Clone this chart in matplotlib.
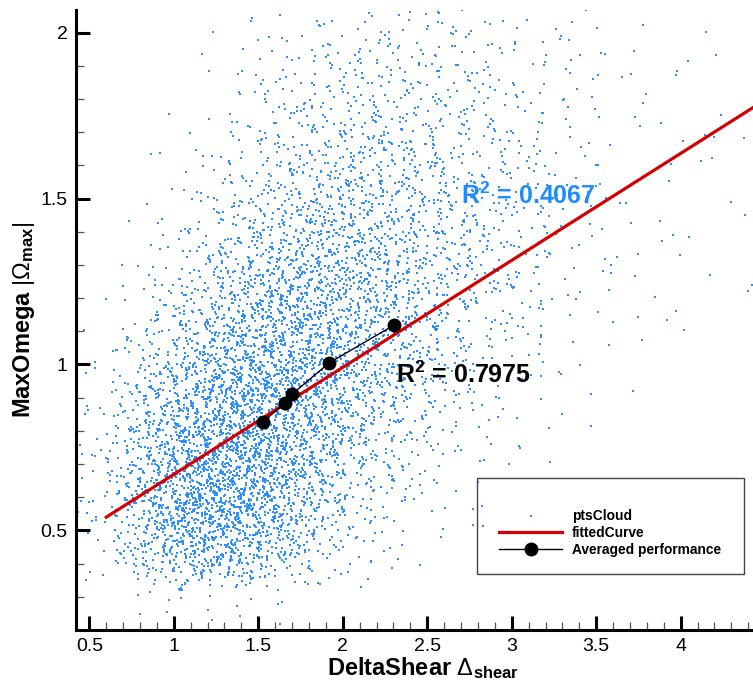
import numpy as np
import matplotlib
matplotlib.use("Agg")
import matplotlib.pyplot as plt
from matplotlib.patches import Rectangle
from matplotlib.ticker import MultipleLocator

plt.rcParams['font.family'] = ['Liberation Sans', 'DejaVu Sans']
plt.rcParams['mathtext.fontset'] = 'custom'
plt.rcParams['mathtext.rm'] = 'Liberation Sans'
plt.rcParams['mathtext.it'] = 'Liberation Sans'
plt.rcParams['mathtext.bf'] = 'Liberation Sans:bold'

# point cloud, stored as counts per cell (rows go up in y, columns go right in x)
cloud_x_edges = [0.5, 0.75, 1.0, 1.25, 1.5, 1.75, 2.0, 2.25, 2.5, 2.75,
                 3.0, 3.25, 3.5, 3.75, 4.0, 4.25, 4.5]
cloud_y_edges = [0.25, 0.375, 0.5, 0.625, 0.75, 0.875, 1.0, 1.125, 1.25,
                 1.375, 1.5, 1.625, 1.75, 1.875, 2.0, 2.125]
cloud_counts = [
    [0, 4, 8, 8, 4, 1, 0, 0, 0, 0, 0, 0, 0, 0, 0, 0],
    [14, 76, 142, 130, 73, 32, 12, 4, 1, 0, 0, 0, 0, 0, 0, 0],
    [22, 108, 196, 192, 122, 61, 24, 9, 4, 1, 0, 0, 0, 0, 0, 0],
    [22, 105, 196, 209, 151, 85, 40, 18, 8, 4, 1, 0, 0, 0, 0, 0],
    [16, 81, 159, 196, 165, 111, 61, 30, 14, 5, 3, 1, 0, 0, 0, 0],
    [11, 54, 116, 162, 162, 127, 81, 45, 22, 11, 5, 3, 1, 0, 0, 0],
    [5, 30, 76, 124, 142, 128, 92, 57, 30, 16, 8, 4, 2, 1, 0, 0],
    [1, 14, 46, 84, 113, 115, 92, 61, 36, 20, 12, 6, 3, 2, 1, 1],
    [0, 7, 26, 54, 81, 95, 84, 61, 40, 24, 15, 7, 3, 2, 2, 1],
    [0, 3, 14, 30, 54, 70, 70, 54, 38, 24, 16, 7, 3, 2, 2, 1],
    [0, 1, 7, 18, 35, 50, 54, 45, 34, 22, 15, 7, 3, 2, 2, 1],
    [0, 0, 4, 11, 22, 35, 39, 34, 27, 19, 13, 6, 3, 2, 2, 1],
    [0, 0, 1, 7, 15, 23, 27, 26, 22, 15, 11, 6, 3, 2, 2, 1],
    [0, 0, 1, 4, 9, 15, 19, 19, 16, 12, 9, 5, 3, 2, 2, 1],
    [0, 0, 0, 1, 4, 7, 9, 9, 9, 7, 5, 4, 2, 2, 1, 1],
]

# fitted line end points
fit_x = [0.6, 4.45]
fit_y = [0.54, 1.781]

# averaged performance
avg_x = [1.526, 1.658, 1.701, 1.92, 2.305]
avg_y = [0.827, 0.883, 0.911, 1.005, 1.119]

r2_cloud = 0.4067
r2_avg = 0.7975


def radical_inverse(idx, base):
    idx = np.asarray(idx, dtype=np.int64).copy()
    res = np.zeros(idx.shape)
    f = 1.0
    while np.any(idx > 0):
        f /= base
        res += f * (idx % base)
        idx //= base
    return res


def spread_cells(xe, ye, counts):
    # each cell's points follow a tent profile two cells wide around the cell
    # centre (Halton sequence, bases 2/3/5/7), so the density blends smoothly
    px, py = [], []
    start = 1
    for j, row in enumerate(counts):
        for i, n in enumerate(row):
            if n == 0:
                continue
            k = np.arange(start, start + n)
            start += n
            u = radical_inverse(k, 2) + radical_inverse(k, 5)
            v = radical_inverse(k, 3) + radical_inverse(k, 7)
            dx = xe[i + 1] - xe[i]
            dy = ye[j + 1] - ye[j]
            px.append(xe[i] + (u - 0.5) * dx)
            py.append(ye[j] + (v - 0.5) * dy)
    return np.concatenate(px), np.concatenate(py)


pts_x, pts_y = spread_cells(cloud_x_edges, cloud_y_edges, cloud_counts)

fig = plt.figure(figsize=(7.53, 6.88), dpi=100)
ax = fig.add_axes([0.1009, 0.0843, 0.8991, 0.9012])

blue = '#2b8fff'
ax.scatter(pts_x, pts_y, s=2.4, marker='s', color=blue, linewidths=0,
           label='ptsCloud', zorder=1)
ax.plot(fit_x, fit_y, color='#d40000', lw=2.3, label='fittedCurve', zorder=2)
ax.plot(avg_x, avg_y, color='black', lw=1.0, marker='o', ms=9,
        label='Averaged performance', zorder=3)

ax.text(2.70, 1.508, r'R$^{\mathbf{2}}$ = %.4f' % r2_cloud, color='#1e8cff',
        fontsize=18, fontweight='bold', va='center', ha='left')
ax.text(2.315, 0.968, r'R$^{\mathbf{2}}$ = %.4f' % r2_avg, color='black',
        fontsize=18, fontweight='bold', va='center', ha='left')

ax.set_xlim(0.421, 4.428)
ax.set_ylim(0.2, 2.068)

for side in ['top', 'right']:
    ax.spines[side].set_visible(False)
for side in ['left', 'bottom']:
    ax.spines[side].set_linewidth(2.2)

ax.xaxis.set_major_locator(MultipleLocator(0.5))
ax.xaxis.set_minor_locator(MultipleLocator(0.1))
ax.yaxis.set_major_locator(MultipleLocator(0.5))
ax.yaxis.set_minor_locator(MultipleLocator(0.1))
ax.tick_params(which='major', direction='in', length=10, width=2.2,
               labelsize=14, pad=6)
ax.tick_params(which='minor', direction='in', length=5.5, width=0.9,
               color='#555555')
ax.xaxis.set_major_formatter(plt.FuncFormatter(lambda v, p: '%g' % v))
ax.yaxis.set_major_formatter(plt.FuncFormatter(lambda v, p: '%g' % v))

ax.set_xlabel(r'DeltaShear $\Delta_{\mathbf{shear}}$', fontsize=17,
              fontweight='bold')
ax.set_ylabel(r'MaxOmega $|\Omega_{\mathbf{max}}|$', fontsize=17,
              fontweight='bold')
ax.xaxis.set_label_coords(0.513, -0.040)
ax.yaxis.set_label_coords(-0.058, 0.5)

# legend frame drawn separately so it can be larger than the entries
ax.add_patch(Rectangle((0.592, 0.090), 0.395, 0.155, transform=ax.transAxes,
                       fill=False, edgecolor='#444444', lw=1.0, zorder=5))
leg = ax.legend(loc='upper left', bbox_to_anchor=(0.625, 0.195),
                frameon=False, fontsize=9.9, handlelength=4.6,
                handletextpad=0.7, labelspacing=0.2, borderpad=0,
                borderaxespad=0, markerscale=1.0)
for t in leg.get_texts():
    t.set_fontweight('bold')

fig.savefig('out.png', dpi=100)
